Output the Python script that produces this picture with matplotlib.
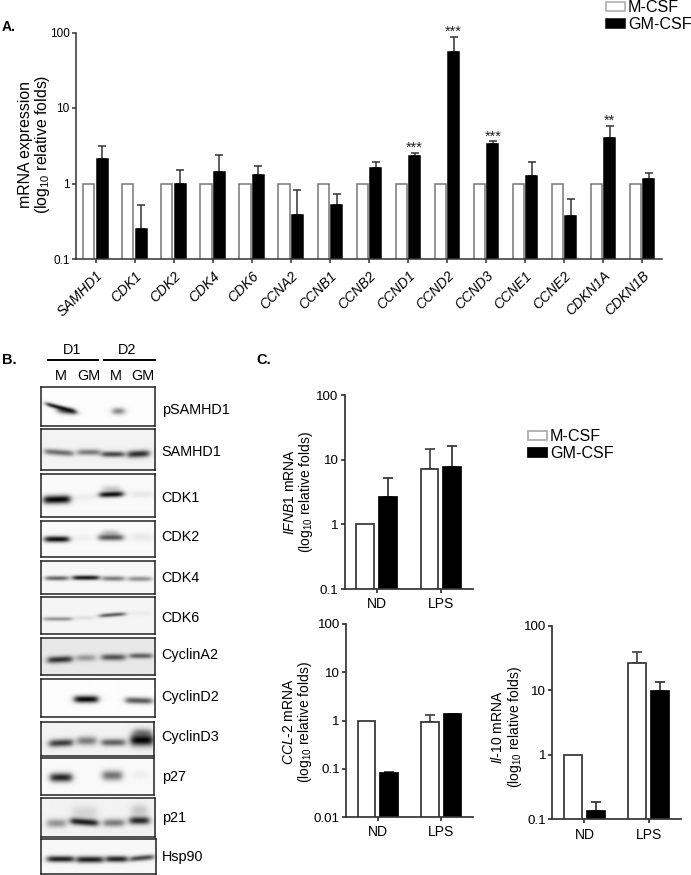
import matplotlib
matplotlib.use('Agg')
import matplotlib.pyplot as plt
import numpy as np

plt.rcParams['font.family'] = ['Liberation Sans', 'DejaVu Sans']
plt.rcParams['mathtext.fontset'] = 'custom'
plt.rcParams['mathtext.rm'] = 'Liberation Sans'
plt.rcParams['mathtext.it'] = 'Liberation Sans:italic'
plt.rcParams['mathtext.default'] = 'regular'

W, H = 691, 875

# Panel A
genes = ['SAMHD1', 'CDK1', 'CDK2', 'CDK4', 'CDK6', 'CCNA2', 'CCNB1', 'CCNB2',
         'CCND1', 'CCND2', 'CCND3', 'CCNE1', 'CCNE2', 'CDKN1A', 'CDKN1B']
a_mcsf = [1] * 15
a_gmcsf = [2.12, 0.25, 0.99, 1.4, 1.315, 0.377, 0.522, 1.6, 2.32, 54.7, 3.31, 1.26, 0.37, 4.02, 1.13]
a_gmcsf_top = [3.15, 0.527, 1.49, 2.37, 1.68, 0.83, 0.737, 1.95, 2.57, 87.3, 3.6, 1.9, 0.627, 5.86, 1.36]
a_stars = {'CCND1': '***', 'CCND2': '***', 'CCND3': '***', 'CDKN1A': '**'}

# Panel C
groups = ['ND', 'LPS']
ifnb_m = [1, 7.1]
ifnb_m_top = [1, 14.5]
ifnb_gm = [2.62, 7.7]
ifnb_gm_top = [5.16, 16.5]
ccl2_m = [1, 0.946]
ccl2_m_top = [1, 1.3]
ccl2_gm = [0.0804, 1.34]
ccl2_gm_top = [0.0854, 1.38]
il10_m = [1, 26.3]
il10_m_top = [1, 39.5]
il10_gm = [0.135, 9.8]
il10_gm_top = [0.184, 13.4]

# Panel B: blot names, frames (left, right, top, bottom) and background grey
blot_names = ['pSAMHD1', 'SAMHD1', 'CDK1', 'CDK2', 'CDK4', 'CDK6', 'CyclinA2',
              'CyclinD2', 'CyclinD3', 'p27', 'p21', 'Hsp90']
blot_frames = [(41.3, 155, 386.7, 425.7), (41.3, 155, 429.3, 470.3), (41.3, 155, 474.3, 516.7),
               (41.3, 155, 521.3, 556.7), (41.3, 155, 561, 594), (41.3, 155, 597.3, 634),
               (41.3, 155, 637.7, 674.7), (40.7, 155, 679.3, 717.3), (40.7, 154, 721.7, 755.7),
               (40.7, 154, 757.7, 795), (40.7, 155, 797.7, 836.7), (40.7, 155.7, 839.3, 874.3)]
blot_bg = [0.99, 0.95, 0.98, 0.98, 0.97, 0.96, 0.91, 0.99, 0.95, 0.98, 0.95, 0.97]
blot_label_y = [410, 451.7, 497.7, 536.7, 577.7, 618.3, 655, 696.7, 736.7, 776.7, 817.7, 856.7]

# bands: x start, x end, y at left, y at right, darkness, thickness
psamhd1_bands = [(46.5, 75, 404, 411.5, .9, 1.2), (58, 75, 410, 411.5, .65, 1.8), (113, 124, 411, 411, .5, 1.9)]
samhd1_bands = [(45, 73, 451.5, 453.5, .55, 1.7), (78, 100, 452.3, 452.3, .5, 1.7),
                (102, 124, 454.3, 454.3, .72, 1.6), (128, 149, 454.5, 453.5, .82, 2)]
cdk1_bands = [(44, 70, 499.6, 499, .99, 2.3), (100, 123, 494.6, 493.8, .95, 1.6), (103, 120, 489, 489, .2, 2),
              (75, 95, 497, 497, .05, 2), (132, 152, 494, 494, .08, 2)]
cdk2_bands = [(45, 69, 539, 539, .95, 1.7), (99, 123, 537.3, 537.3, .65, 1.8), (103, 118, 532.5, 532.5, .22, 1.6),
              (132, 152, 537, 537, .07, 2.5), (77, 90, 537.5, 537.5, .05, 2)]
cdk4_bands = [(46, 68, 578, 578, .6, 1.3), (73, 99, 577.5, 577.5, .92, 1.3),
              (103, 124, 578.3, 578.3, .5, 1.4), (129, 151, 578.6, 578.6, .42, 1.4)]
cdk6_bands = [(44, 72, 619, 619, .4, 1.1), (77, 93, 618, 618, .1, 1.2), (100, 125, 615.8, 614, .62, 1.1),
              (133, 150, 613.3, 613.3, .05, 1.2)]
cyclina2_bands = [(48, 72, 659.5, 658.5, .8, 1.9), (77, 95, 657.3, 657.3, .35, 1.9),
                  (102, 125, 656.7, 656.7, .65, 1.8), (130, 152, 655.3, 655.3, .6, 1.5)]
cyclind2_bands = [(74, 97, 699.3, 699.3, .98, 2), (125, 151, 700.3, 701, .65, 1.8)]
cyclind3_bands = [(49, 72, 743.3, 742.3, .75, 2.1), (77, 95, 740.7, 740.7, .5, 2.4),
                  (101, 124, 742.3, 742.3, .6, 2), (130, 152, 740, 740, 1, 3.2), (133, 150, 733, 733, .45, 2.5)]
p27_bands = [(50, 71, 777.7, 777.7, .85, 2.5), (102, 121, 775.7, 775.7, .55, 2.8), (132, 147, 775, 775, .05, 2.5)]
p21_bands = [(47, 65, 822.7, 822.7, .4, 2.4), (70, 97, 820.5, 822.5, .88, 2), (103, 123, 822.3, 822.3, .5, 2.2),
             (129, 148, 820, 820, .85, 2.2), (131, 146, 810, 810, .18, 3.5), (72, 96, 812, 812, .12, 4)]
hsp90_bands = [(47, 73, 859.5, 859.5, .88, 1.7), (76, 102, 860, 860, .88, 1.8),
               (105, 126, 859.5, 859.5, .88, 1.7), (129, 152, 859.5, 857.5, .72, 1.5)]
blot_bands = [psamhd1_bands, samhd1_bands, cdk1_bands, cdk2_bands, cdk4_bands, cdk6_bands,
              cyclina2_bands, cyclind2_bands, cyclind3_bands, p27_bands, p21_bands, hsp90_bands]

fig = plt.figure(figsize=(W / 100, H / 100), dpi=100)


def px_axes(x0, x1, top, bottom):
    return fig.add_axes([x0 / W, 1 - bottom / H, (x1 - x0) / W, (bottom - top) / H])


def px_text(x, y, s, **kw):
    kw.setdefault('ha', 'center')
    kw.setdefault('va', 'center')
    fig.text(x / W, 1 - y / H, s, **kw)


def bar_panel(ax, labels, m, m_top, gm, gm_top, ylim, ticks, ticklabels, off, width, edge, tickfs, cap, lw):
    x = np.arange(len(labels))
    ax.set_yscale('log')
    ax.bar(x - off, m, width, color='white', edgecolor=edge, linewidth=lw, zorder=2, label='M-CSF')
    ax.bar(x + off, gm, width, color='black', edgecolor='black', linewidth=lw, zorder=2, label='GM-CSF')
    for xs, v, t, c in [(x - off, m, m_top, '#444444'), (x + off, gm, gm_top, '#333333')]:
        v = np.array(v, dtype=float)
        up = np.array(t, dtype=float) - v
        keep = up > 0
        ax.errorbar(xs[keep], v[keep], yerr=[np.zeros(keep.sum()), up[keep]], fmt='none',
                    ecolor=c, elinewidth=lw, capsize=cap, capthick=lw, zorder=1)
    ax.set_xlim(-0.5, len(labels) - 0.5)
    ax.set_ylim(*ylim)
    ax.set_yticks(ticks)
    ax.set_yticklabels(ticklabels, fontsize=tickfs)
    ax.minorticks_off()
    ax.set_xticks(x)
    for s in ['top', 'right']:
        ax.spines[s].set_visible(False)
    for s in ['left', 'bottom']:
        ax.spines[s].set_color('#333333')
        ax.spines[s].set_linewidth(lw)
    ax.tick_params(axis='both', length=3, width=lw, color='#333333', pad=1.5)


def add_legend(ax, x, y):
    leg = ax.legend(loc='upper left', bbox_to_anchor=(x / W, 1 - y / H), bbox_transform=fig.transFigure,
                    frameon=False, fontsize=11.6, handlelength=1.17, handleheight=0.45, handletextpad=0.2,
                    labelspacing=0.15, borderpad=0, borderaxespad=0)
    leg.legend_handles[0].set_edgecolor('#aaaaaa')


# Panel A
ax = px_axes(76, 661.7, 32.5, 259)
bar_panel(ax, genes, a_mcsf, a_mcsf, a_gmcsf, a_gmcsf_top, (0.1, 100), [0.1, 1, 10, 100],
          ['0.1', '1', '10', '100'], 0.172, 0.285, '#777777', 8.5, 2.6, 1.1)
ax.set_xticklabels(genes, rotation=45, ha='right', rotation_mode='anchor', style='italic', fontsize=10)
ax.tick_params(axis='x', pad=4)
for i, g in enumerate(genes):
    if g in a_stars:
        ax.annotate(a_stars[g], (i + 0.172, a_gmcsf_top[i]), xytext=(0, -1.5), textcoords='offset points',
                    ha='center', va='bottom', fontsize=10.3, color='#222222', annotation_clip=False)
add_legend(ax, 605.7, 0)
px_text(35, 144, 'mRNA expression\n(log$_{10}$ relative folds)', rotation=90, fontsize=11.4, linespacing=1.05)
px_text(8.5, 27, 'A.', fontweight='bold', fontsize=10)

# Panel B
for name, frame, bg, label_y, bands in zip(blot_names, blot_frames, blot_bg, blot_label_y, blot_bands):
    x0, x1, top, bottom = frame
    bx = px_axes(x0, x1, top, bottom)
    xx, yy = np.meshgrid(np.arange(x0, x1, 0.5), np.arange(top, bottom, 0.5))
    img = np.full(xx.shape, float(bg))
    for bx0, bx1, yl, yr, dark, sig in bands:
        ends = 1 / (1 + np.exp(-(xx - bx0) / 1.8)) / (1 + np.exp((xx - bx1) / 1.8))
        yc = yl + (yr - yl) * (xx - bx0) / (bx1 - bx0)
        s2 = (sig * 1.25) ** 2
        img = img * (1 - dark * ends * np.exp(-(yy - yc) ** 2 / (2 * s2)))
    bx.imshow(img, cmap='gray', vmin=0, vmax=1, aspect='auto', interpolation='bilinear')
    bx.set_xticks([])
    bx.set_yticks([])
    for s in bx.spines.values():
        s.set_color('#222222')
        s.set_linewidth(1.1)
    px_text(161.7, label_y, name, ha='left', fontsize=10.4)

for cx, lab, l0, l1 in [(72, 'D1', 47.7, 97.7), (127, 'D2', 104.3, 155)]:
    px_text(cx, 350, lab, fontsize=10.4)
    fig.add_artist(plt.Line2D([l0 / W, l1 / W], [1 - 360 / H, 1 - 360 / H], color='black', lw=1.4))
for cx, lab in [(61, 'M'), (89.3, 'GM'), (115.7, 'M'), (143.3, 'GM')]:
    px_text(cx, 375.7, lab, fontsize=10.4)
px_text(9, 360, 'B.', fontweight='bold', fontsize=10.5)

# Panel C
ax1 = px_axes(344.7, 473, 395.3, 589)
bar_panel(ax1, groups, ifnb_m, ifnb_m_top, ifnb_gm, ifnb_gm_top, (0.1, 100), [0.1, 1, 10, 100],
          ['0.1', '1', '10', '100'], 0.178, 0.28, '#333333', 9.6, 3.8, 1.25)
ax1.set_xticklabels(groups, fontsize=10)
ax1.tick_params(axis='x', pad=3)
add_legend(ax1, 527.7, 429)
px_text(299, 491.7, '$\\mathit{IFNB1}$ mRNA\n(log$_{10}$ relative folds)', rotation=90, fontsize=10, linespacing=1.05)

ax2 = px_axes(346, 473, 624, 817)
bar_panel(ax2, groups, ccl2_m, ccl2_m_top, ccl2_gm, ccl2_gm_top, (0.01, 100), [0.01, 0.1, 1, 10, 100],
          ['0.01', '0.1', '1', '10', '100'], 0.178, 0.28, '#333333', 9.6, 3.8, 1.25)
ax2.set_xticklabels(groups, fontsize=10)
ax2.tick_params(axis='x', pad=3)
px_text(298, 721.7, '$\\mathit{CCL}$-$\\mathit{2}$ mRNA\n(log$_{10}$ relative folds)', rotation=90, fontsize=10, linespacing=1.05)

ax3 = px_axes(552.3, 680.7, 626, 819.3)
bar_panel(ax3, groups, il10_m, il10_m_top, il10_gm, il10_gm_top, (0.1, 100), [0.1, 1, 10, 100],
          ['0.1', '1', '10', '100'], 0.178, 0.28, '#333333', 9.6, 3.8, 1.25)
ax3.set_xticklabels(groups, fontsize=10)
ax3.tick_params(axis='x', pad=3)
px_text(507, 727, '$\\mathit{Il}$-$\\mathit{10}$ mRNA\n(log$_{10}$ relative folds)', rotation=90, fontsize=10, linespacing=1.05)

px_text(264, 360, 'C.', fontweight='bold', fontsize=10.5)

fig.savefig('out.png', dpi=100)
